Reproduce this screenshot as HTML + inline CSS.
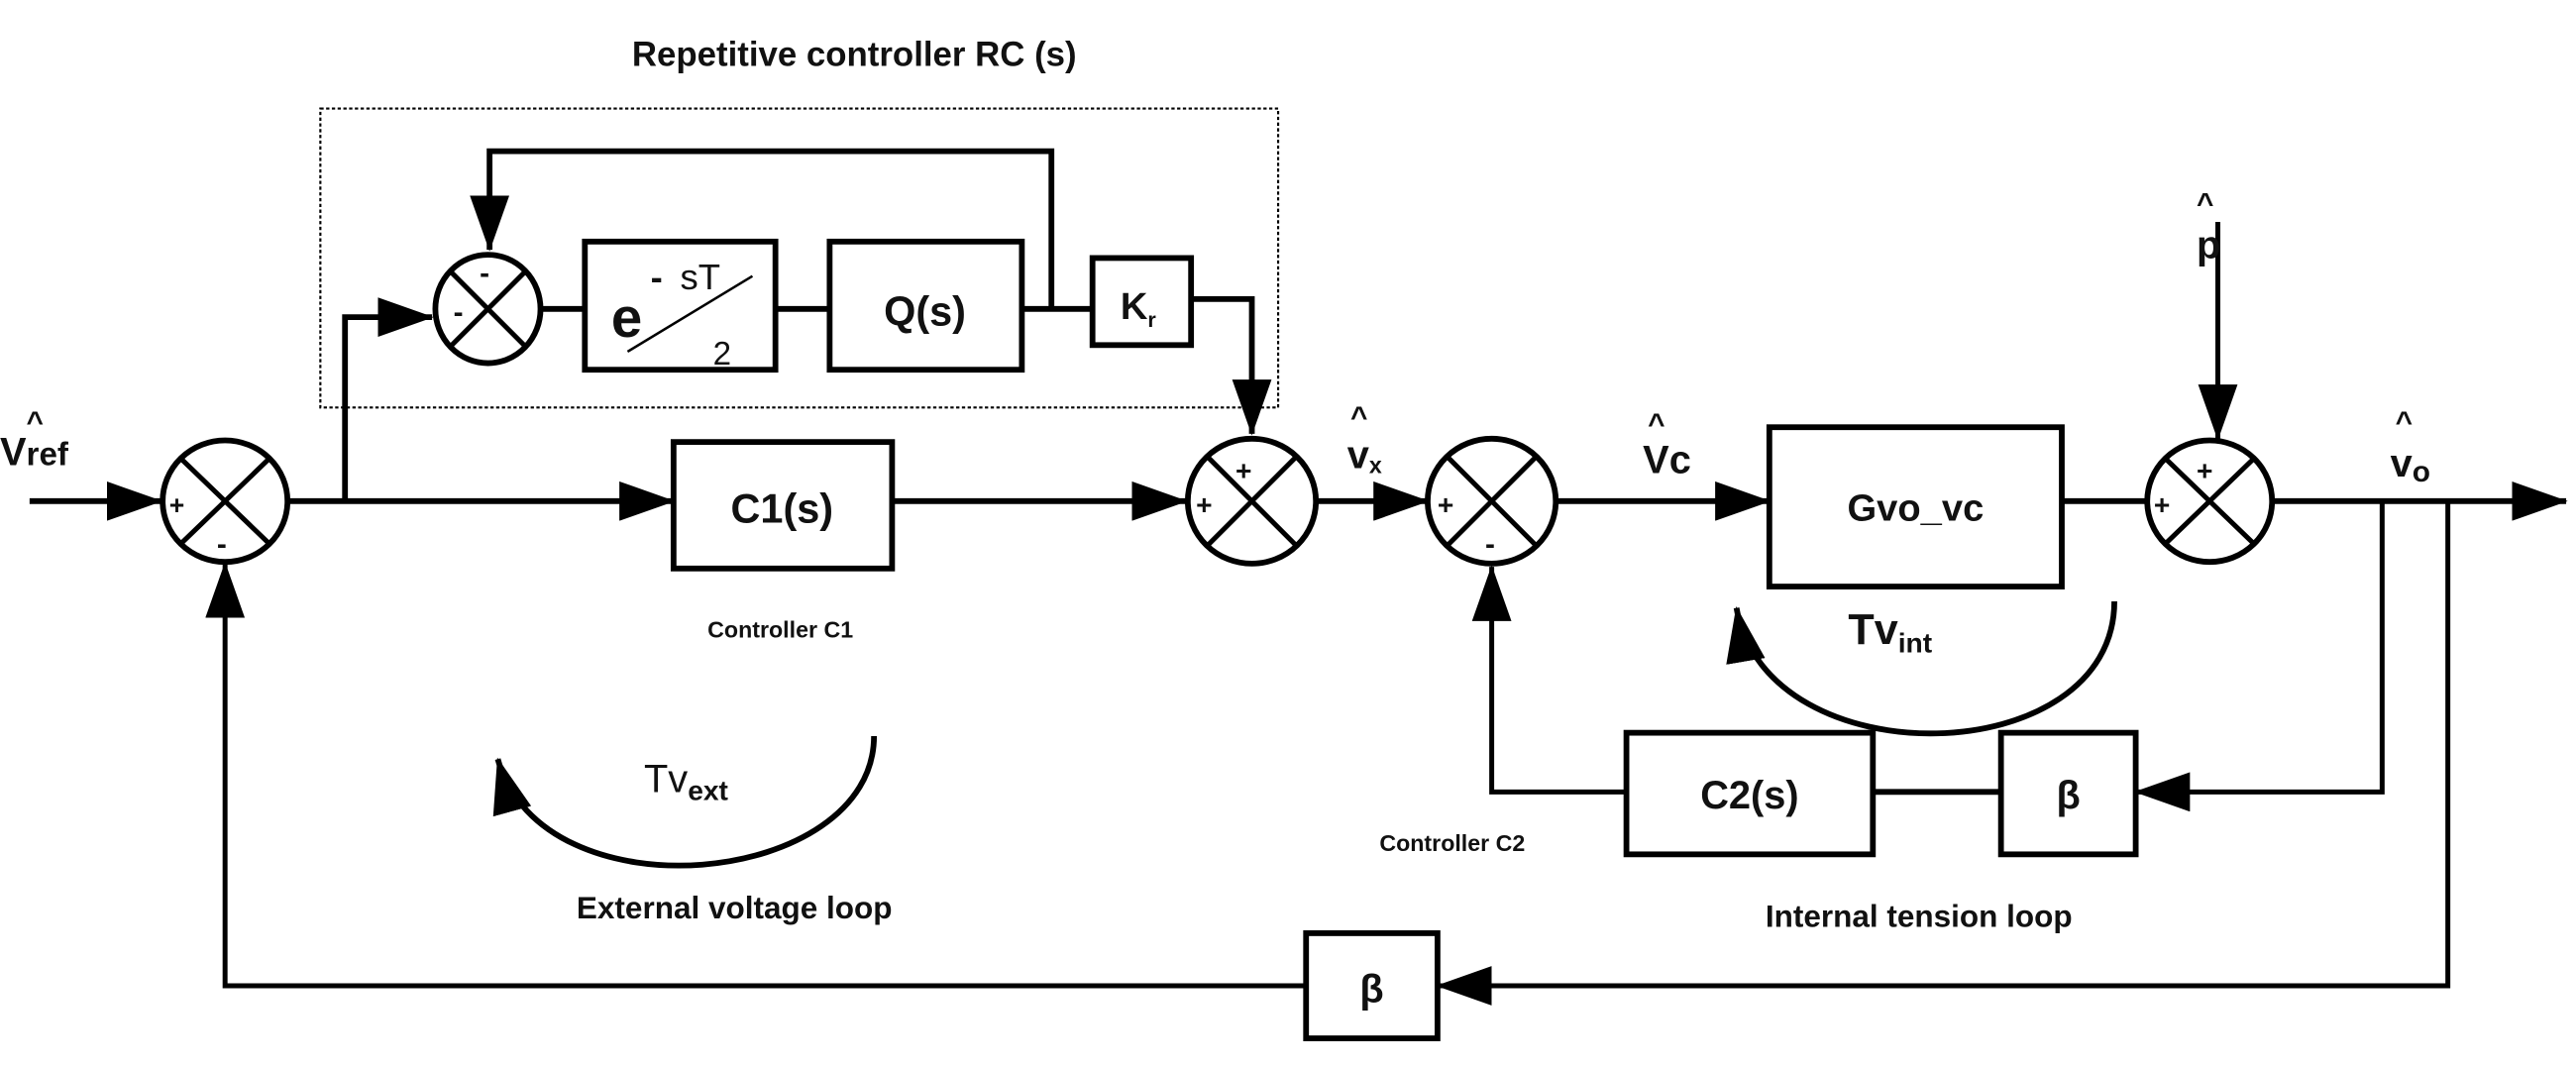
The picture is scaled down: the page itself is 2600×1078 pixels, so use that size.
<!DOCTYPE html>
<html><head><meta charset="utf-8"><style>html,body{margin:0;padding:0;background:#fff}svg{display:block}text{font-family:"Liberation Sans",sans-serif;fill:#111}</style></head><body>
<svg width="2600" height="1078" viewBox="0 0 1568 650" xmlns="http://www.w3.org/2000/svg">
<defs>
<marker id="b" markerWidth="34" markerHeight="24" refX="33" refY="12" orient="auto" markerUnits="userSpaceOnUse" viewBox="0 0 34 24"><path d="M0,0 L34,12 L0,24z" fill="#000"/></marker>
</defs>
<g stroke="#000" stroke-width="3.5" fill="none">
<rect x="195" y="66" width="583" height="182" stroke-width="1.3" stroke-dasharray="2,1.5"/>
<line x1="18" y1="305" x2="98" y2="305" marker-end="url(#b)"/>
<line x1="176" y1="305" x2="410" y2="305" marker-end="url(#b)"/>
<polyline points="210,305 210,193 263,193" marker-end="url(#b)"/>
<polyline points="640,188 640,92 298,92 298,152" marker-end="url(#b)"/>
<line x1="330" y1="188" x2="356" y2="188"/>
<line x1="472" y1="188" x2="505" y2="188"/>
<line x1="622" y1="188" x2="665" y2="188"/>
<polyline points="725,182 762,182 762,264" marker-end="url(#b)"/>
<line x1="543" y1="305" x2="722" y2="305" marker-end="url(#b)"/>
<line x1="802" y1="305" x2="869" y2="305" marker-end="url(#b)"/>
<line x1="948" y1="305" x2="1077" y2="305" marker-end="url(#b)"/>
<line x1="1255" y1="305" x2="1307" y2="305"/>
<line x1="1350" y1="135" x2="1350" y2="267" stroke-width="3" marker-end="url(#b)"/>
<line x1="1383" y1="305" x2="1562" y2="305" marker-end="url(#b)"/>
<polyline points="1450,305 1450,482 1300,482" stroke-width="3" marker-end="url(#b)"/>
<line x1="1140" y1="482" x2="1218" y2="482"/>
<polyline points="990,482 908,482 908,345" stroke-width="3" marker-end="url(#b)"/>
<polyline points="1490,305 1490,600 875,600" stroke-width="3" marker-end="url(#b)"/>
<polyline points="795,600 137,600 137,343" stroke-width="3" marker-end="url(#b)"/>
<rect x="356" y="147" width="116" height="78"/>
<rect x="505" y="147" width="117" height="78"/>
<rect x="665" y="157" width="60" height="53"/>
<rect x="410" y="269" width="133" height="77"/>
<rect x="1077" y="260" width="178" height="97"/>
<rect x="990" y="446" width="150" height="74"/>
<rect x="1218" y="446" width="82" height="74"/>
<rect x="795" y="568" width="80" height="64"/>
<ellipse cx="137" cy="305" rx="38" ry="37"/>
<ellipse cx="297" cy="188" rx="32" ry="33"/>
<ellipse cx="762" cy="305" rx="39" ry="38"/>
<ellipse cx="908" cy="305" rx="39" ry="38"/>
<ellipse cx="1345" cy="305" rx="38" ry="37"/>
<g stroke-width="3">
<path d="M110,279 L164,331 M164,279 L110,331"/>
<path d="M274,165 L320,211 M320,165 L274,211"/>
<path d="M735,278 L789,332 M789,278 L735,332"/>
<path d="M881,278 L935,332 M935,278 L881,332"/>
<path d="M1318,279 L1372,331 M1372,279 L1318,331"/>
</g>
<path d="M532,448 C532,540 330,560 303,462" marker-end="url(#b)"/>
<path d="M1287,366 C1287,470 1075,475 1057,370" marker-end="url(#b)"/>
<line x1="382" y1="214" x2="458" y2="168" stroke-width="1.5"/>
</g>
<g font-weight="bold">
<text x="520" y="40" font-size="21" text-anchor="middle">Repetitive controller RC (s)</text>
<text x="475" y="388" font-size="14" text-anchor="middle">Controller C1</text>
<text x="884" y="518" font-size="14" text-anchor="middle">Controller C2</text>
<text x="447" y="559" font-size="19" text-anchor="middle">External voltage loop</text>
<text x="1168" y="564" font-size="19" text-anchor="middle">Internal tension loop</text>
<text x="476" y="318" font-size="25" text-anchor="middle">C1(s)</text>
<text x="563" y="198" font-size="25" text-anchor="middle">Q(s)</text>
<text x="1166" y="317" font-size="23" text-anchor="middle">Gvo_vc</text>
<text x="1065" y="492" font-size="24" text-anchor="middle">C2(s)</text>
<text x="1259" y="492" font-size="24" text-anchor="middle">β</text>
<text x="835" y="610" font-size="24" text-anchor="middle">β</text>
<text x="682" y="194" font-size="23">K<tspan font-size="13" dy="5">r</tspan></text>
<text x="372" y="205" font-size="34">e</text>
<text x="396" y="176" font-size="22">-</text>
<text x="414" y="176" font-size="22" font-weight="normal">sT</text>
<text x="434" y="222" font-size="20" font-weight="normal">2</text>
<text x="103" y="313" font-size="16">+</text><text x="132" y="337" font-size="18">-</text>
<text x="292" y="172" font-size="18">-</text><text x="276" y="196" font-size="18">-</text>
<text x="752" y="292" font-size="17">+</text><text x="728" y="313" font-size="17">+</text>
<text x="875" y="313" font-size="17">+</text><text x="904" y="337" font-size="18">-</text>
<text x="1337" y="292" font-size="17">+</text><text x="1311" y="313" font-size="17">+</text>
</g>
<g font-weight="bold" font-size="24">
<text x="0" y="283">V<tspan font-size="20">ref</tspan></text><text x="16" y="263" font-size="18">^</text>
<text x="820" y="285">v<tspan font-size="14" dy="3">x</tspan></text><text x="822" y="260" font-size="18">^</text>
<text x="1000" y="288">Vc</text><text x="1003" y="264" font-size="18">^</text>
<text x="1337" y="157">p</text><text x="1337" y="130" font-size="18">^</text>
<text x="1455" y="290">v<tspan font-size="18" dy="3">o</tspan></text><text x="1458" y="263" font-size="18">^</text>
</g>
<text x="392" y="482" font-size="24">Tv<tspan font-size="17" font-weight="bold" dy="5">ext</tspan></text>
<text x="1125" y="392" font-size="26" font-weight="bold">Tv<tspan font-size="17" dy="5">int</tspan></text>
</svg>
</body></html>
